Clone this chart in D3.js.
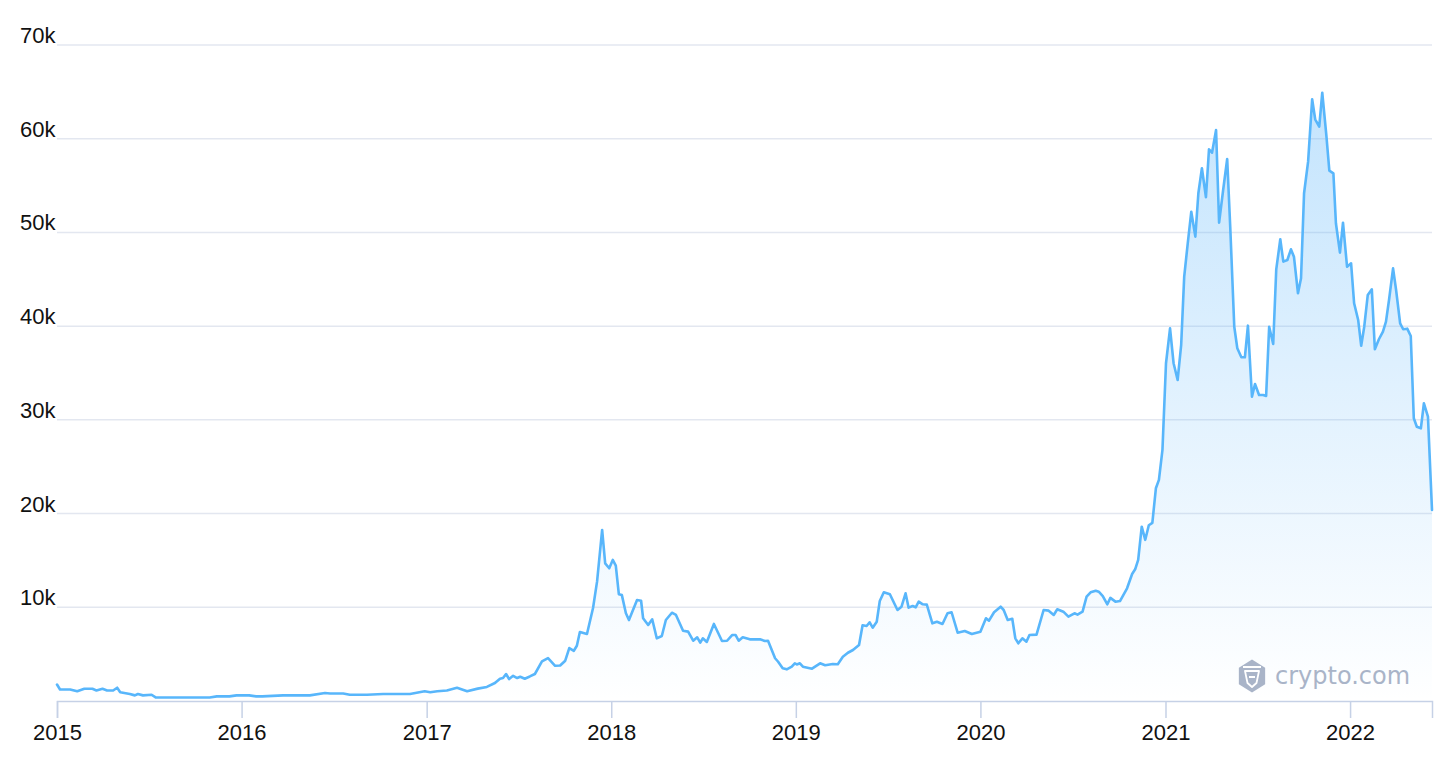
<!DOCTYPE html>
<html><head><meta charset="utf-8">
<script src="https://cdn.jsdelivr.net/npm/d3@7"></script>
<style>body{margin:0;background:#fff}svg{display:block}</style>
</head><body>
<svg id="chart" width="1456" height="784"></svg>
<script>
// ---- data (weekly BTC price readings) ----
const dates = [
 "2015-01-01","2015-01-07","2015-01-27","2015-02-10","2015-02-24","2015-03-12","2015-03-20","2015-04-01","2015-04-10","2015-04-22","2015-04-30","2015-05-06","2015-05-25","2015-06-04","2015-06-10","2015-06-20","2015-07-07","2015-07-15","2015-08-20","2015-09-25","2015-10-30","2015-11-13","2015-12-08","2015-12-22",
 "2016-01-16","2016-01-30","2016-02-11","2016-03-23","2016-05-15","2016-06-14","2016-06-24","2016-07-20","2016-08-02","2016-09-05","2016-10-07","2016-11-29","2016-12-28",
 "2017-01-08","2017-01-22","2017-02-10","2017-03-02","2017-03-22","2017-04-12","2017-04-30","2017-05-16","2017-05-26","2017-06-01","2017-06-07","2017-06-13","2017-06-21","2017-06-29","2017-07-05","2017-07-14","2017-07-24","2017-08-03","2017-08-17","2017-08-29","2017-09-12","2017-09-22","2017-10-02","2017-10-10","2017-10-19","2017-10-25","2017-10-31","2017-11-14","2017-11-26","2017-12-04","2017-12-14","2017-12-20","2017-12-28",
 "2018-01-04","2018-01-10","2018-01-16","2018-01-22","2018-01-30","2018-02-05","2018-02-21","2018-03-01","2018-03-05","2018-03-15","2018-03-23","2018-04-01","2018-04-11","2018-04-19","2018-05-01","2018-05-09","2018-05-23","2018-06-02","2018-06-12","2018-06-20","2018-06-26","2018-07-01","2018-07-09","2018-07-23","2018-08-08","2018-08-18","2018-08-28","2018-09-04","2018-09-10","2018-09-18","2018-10-02","2018-10-22","2018-11-01","2018-11-07","2018-11-21","2018-11-27","2018-12-06","2018-12-14","2018-12-24","2018-12-30",
 "2019-01-03","2019-01-09","2019-01-15","2019-02-02","2019-02-18","2019-02-28","2019-03-15","2019-03-25","2019-04-04","2019-04-14","2019-04-24","2019-05-06","2019-05-13","2019-05-21","2019-05-27","2019-06-02","2019-06-10","2019-06-16","2019-06-24","2019-07-06","2019-07-21","2019-07-29","2019-08-06","2019-08-12","2019-08-20","2019-08-26","2019-09-01","2019-09-09","2019-09-17","2019-09-28","2019-10-07","2019-10-18","2019-10-28","2019-11-05","2019-11-17","2019-12-01","2019-12-15",
 "2020-01-01","2020-01-12","2020-01-18","2020-01-28","2020-02-10","2020-02-16","2020-02-24","2020-03-04","2020-03-10","2020-03-16","2020-03-24","2020-04-01","2020-04-07","2020-04-21","2020-05-05","2020-05-15","2020-05-25","2020-06-01","2020-06-13","2020-06-23","2020-07-05","2020-07-11","2020-07-21","2020-07-29","2020-08-06","2020-08-16","2020-08-22","2020-08-30","2020-09-08","2020-09-14","2020-09-24","2020-10-03","2020-10-17","2020-10-27","2020-11-02","2020-11-08","2020-11-15","2020-11-22","2020-11-29","2020-12-06","2020-12-13","2020-12-19","2020-12-26",
 "2021-01-02","2021-01-10","2021-01-17","2021-01-25","2021-02-01","2021-02-07","2021-02-14","2021-02-21","2021-03-01","2021-03-07","2021-03-14","2021-03-22","2021-03-28","2021-04-03","2021-04-11","2021-04-17","2021-04-25","2021-05-03","2021-05-09","2021-05-17","2021-05-23","2021-05-31","2021-06-07","2021-06-13","2021-06-21","2021-06-27","2021-07-05","2021-07-13","2021-07-19","2021-07-25","2021-08-02","2021-08-08","2021-08-16","2021-08-22","2021-08-30","2021-09-06","2021-09-12","2021-09-20","2021-09-26","2021-10-02","2021-10-10","2021-10-18","2021-10-24","2021-11-01","2021-11-07","2021-11-15","2021-11-21","2021-11-29","2021-12-04","2021-12-12","2021-12-18","2021-12-26",
 "2022-01-03","2022-01-09","2022-01-17","2022-01-23","2022-01-29","2022-02-05","2022-02-13","2022-02-19","2022-02-27","2022-03-07","2022-03-13","2022-03-19","2022-03-27","2022-04-02","2022-04-10","2022-04-16","2022-04-24","2022-05-01","2022-05-07","2022-05-13","2022-05-21","2022-05-27","2022-06-04","2022-06-12"
];
const prices = [
 1760,1230,1230,1040,1300,1300,1120,1300,1120,1120,1420,930,750,600,750,600,670,380,380,380,380,490,490,600,
 600,490,490,600,600,850,800,800,670,670,750,750,1040,
 930,1040,1120,1420,1040,1320,1500,1920,2380,2450,2880,2340,2690,2450,2590,2380,2620,2880,4220,4580,3760,3790,4300,5650,5360,5900,7360,7150,9920,12760,18250,14690,14160,
 15050,14440,11400,11300,9360,8640,10780,10700,8830,8110,8720,6690,6940,8640,9420,9180,7500,7400,6430,6800,6220,6690,6300,8220,6400,6430,7040,7040,6430,6800,6580,6580,6400,6430,4560,4190,3490,3380,3660,4020,
 3900,4020,3660,3450,4020,3810,3950,3920,4730,5150,5440,5980,8080,8000,8400,7820,8460,10670,11600,11390,9710,10060,11490,9960,10140,10000,10600,10320,10280,8290,8460,8220,9360,9470,7290,7470,7150,
 7400,8830,8570,9470,10060,9710,8640,8780,6690,6160,6690,6330,7040,7080,9710,9640,9180,9790,9530,9000,9360,9210,9530,11130,11600,11770,11660,11200,10320,11000,10600,10670,12030,13550,14050,15050,18600,17200,18750,19000,22700,23600,26800,
 36040,39770,36040,34250,37990,45280,48840,52210,49550,54180,56850,53750,58870,58510,60930,51040,54530,57840,50610,39940,37640,36680,36680,40050,32470,33830,32650,32650,32550,39940,38100,46050,49270,46880,47060,48200,47410,43510,45110,54180,57550,64210,62070,61290,64910,60400,56590,56310,50980,47840,51040,46350,
 46710,42440,40660,37910,39940,43330,43930,37530,38600,39410,40480,42790,46170,43860,40300,39670,39730,38950,30170,29270,29100,31770,30340,20380
];
const yTickValues = [10000,20000,30000,40000,50000,60000,70000];
const yTickLabels = ["10k","20k","30k","40k","50k","60k","70k"];
const xTickYears = [2015,2016,2017,2018,2019,2020,2021,2022];
const watermarkText = "crypto.com";

// ---- drawing ----
(function(){
const svg = d3.select("#chart");
const parse = d3.timeParse("%Y-%m-%d");
const data = dates.map((d,i)=>({date:parse(d), price:prices[i]}));
const pl = 57, pr = 1432, pt = 45, pb = 701;
const x = d3.scaleTime().domain(d3.extent(data,d=>d.date)).range([pl,pr]);
const y = d3.scaleLinear().domain([0,70000]).range([pb,pt]);
const font = "'Liberation Sans', Arial, sans-serif";

const defs = svg.append("defs");
const grad = defs.append("linearGradient").attr("id","areaGrad")
  .attr("gradientUnits","userSpaceOnUse").attr("x1",0).attr("x2",0)
  .attr("y1",y(65000)).attr("y2",y(0));
grad.append("stop").attr("offset","0%").attr("stop-color","#5ab4fa").attr("stop-opacity",0.36);
grad.append("stop").attr("offset","100%").attr("stop-color","#5ab4fa").attr("stop-opacity",0.0);

svg.append("g").selectAll("line").data(yTickValues).join("line")
  .attr("x1",pl).attr("x2",pr).attr("y1",d=>y(d)).attr("y2",d=>y(d))
  .attr("stroke","#e3e7f0").attr("stroke-width",1.5);
svg.append("g").selectAll("text").data(yTickValues).join("text")
  .attr("x",20).attr("y",d=>y(d)-2)
  .attr("font-family",font).attr("font-size",22).attr("fill","#111")
  .text((d,i)=>yTickLabels[i]);

svg.append("path").datum(data)
  .attr("d",d3.area().x(d=>x(d.date)).y0(y(0)).y1(d=>y(d.price)))
  .attr("fill","url(#areaGrad)");
svg.append("path").datum(data)
  .attr("d",d3.line().x(d=>x(d.date)).y(d=>y(d.price)))
  .attr("fill","none").attr("stroke","#58b6fb").attr("stroke-width",2.6)
  .attr("stroke-linejoin","round").attr("stroke-linecap","round");

const xAxis = d3.axisBottom(x)
  .tickValues(xTickYears.map(yr=>new Date(yr,0,1)))
  .tickFormat(d3.timeFormat("%Y")).tickSize(17).tickPadding(6);
const gx = svg.append("g").attr("transform",`translate(0,${pb})`).call(xAxis);
gx.select(".domain").attr("stroke","#c6d1e6").attr("stroke-width",1.5);
gx.selectAll(".tick line").attr("stroke","#c6d1e6").attr("stroke-width",1.5);
gx.selectAll(".tick text").attr("font-family",font).attr("font-size",22).attr("fill","#111");

const wm = svg.append("g").attr("transform","translate(1252,676)");
const hex = d3.range(6).map(i=>{const a=Math.PI/3*i - Math.PI/2; return [16.5*Math.cos(a)*0.92, 16.5*Math.sin(a)];});
wm.append("path").attr("d","M"+hex.join("L")+"Z").attr("fill","#a9b4c8");
wm.append("path").attr("d","M-9,-9 L9,-9 M-7,-5 L7,-5 L4.5,7 L0,11 L-4.5,7 Z M-3,1 L3,1")
  .attr("fill","none").attr("stroke","#fff").attr("stroke-width",1.8).attr("stroke-linejoin","round");
svg.append("text").attr("x",1275).attr("y",684)
  .attr("font-family","'DejaVu Sans', sans-serif").attr("font-size",24).attr("fill","#a9b4c8")
  .text(watermarkText);
})();
</script>
</body></html>
